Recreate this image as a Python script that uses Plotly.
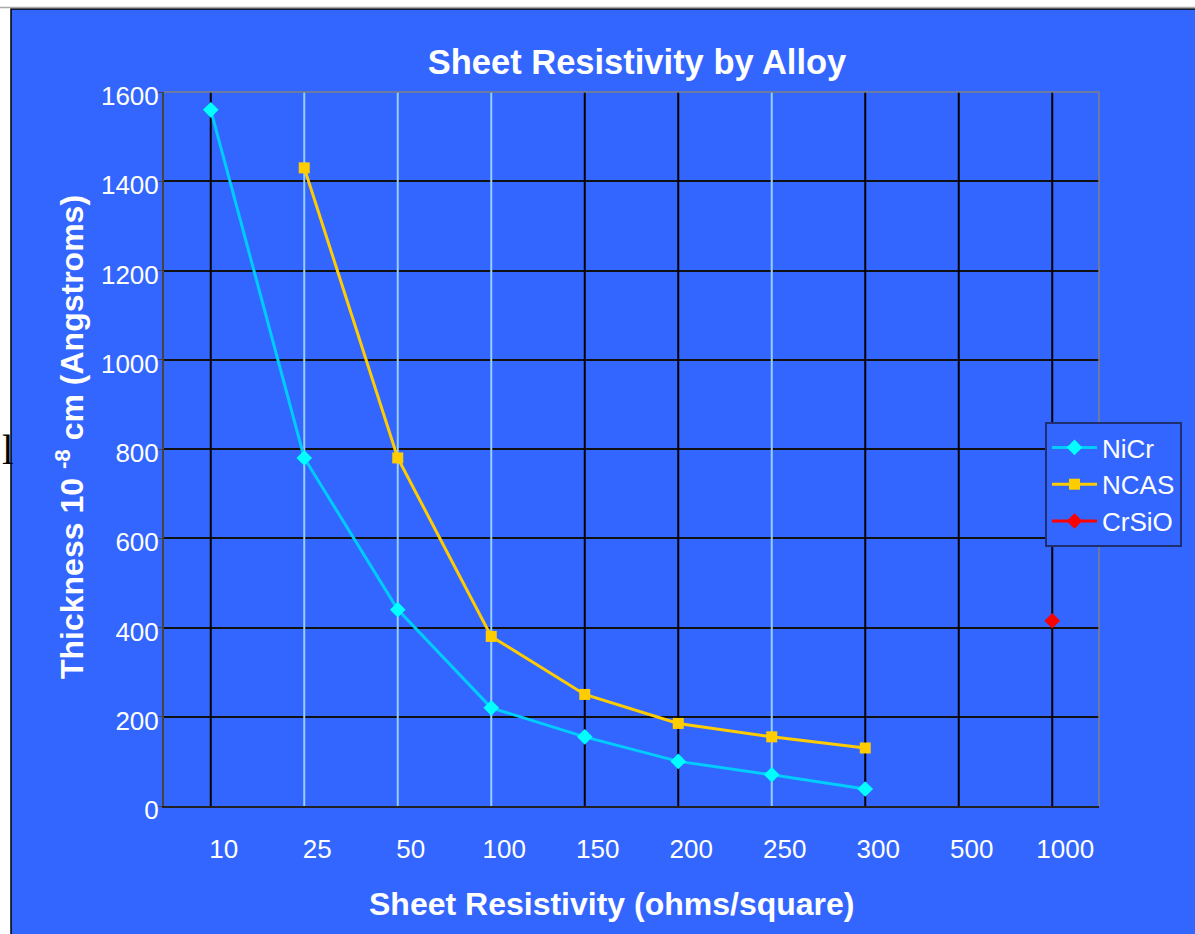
import plotly.graph_objects as go

categories = ["10", "25", "50", "100", "150", "200", "250", "300", "500", "1000"]
nicr = [1560, 780, 440, 220, 155, 100, 70, 38, None, None]
ncas = [None, 1430, 780, 380, 250, 185, 155, 130, None, None]
crsio = [None, None, None, None, None, None, None, None, None, 415]
y_ticks = [0, 200, 400, 600, 800, 1000, 1200, 1400, 1600]

BLUE = "#3366FF"
LIGHT = "#99CCFF"
drop_colors = ["#000000", LIGHT, LIGHT, LIGHT, "#000000", "#000000", LIGHT,
               "#000000", "#000000", "#000000"]
FONT = "Arial, Liberation Sans, sans-serif"

W, H = 1195, 934
L, R, T, B = 164, 1099, 92, 806
pw, ph = R - L, B - T

def px_x(x):
    return (x - L) / pw

def px_y(y):
    return (B - y) / ph

fig = go.Figure()

# vertical category lines (drawn first, above the horizontal grid)
for i, c in enumerate(categories):
    fig.add_trace(go.Scatter(
        x=[c, c], y=[y_ticks[0], y_ticks[-1]], mode="lines",
        line=dict(color=drop_colors[i], width=2),
        showlegend=False, hoverinfo="skip",
    ))

fig.add_trace(go.Scatter(
    x=categories, y=nicr, name="NiCr", mode="lines+markers",
    line=dict(color="#00CCFF", width=3),
    marker=dict(symbol="diamond", size=12, color="#00FFFF", line=dict(width=0)),
))
fig.add_trace(go.Scatter(
    x=categories, y=ncas, name="NCAS", mode="lines+markers",
    line=dict(color="#FFCC00", width=3),
    marker=dict(symbol="square", size=11, color="#FFCC00", line=dict(width=0)),
))
fig.add_trace(go.Scatter(
    x=categories, y=crsio, name="CrSiO", mode="lines+markers",
    line=dict(color="#FF0000", width=3),
    marker=dict(symbol="diamond", size=12, color="#FF0000", line=dict(width=0)),
))

shapes = [
    # blue panel with black border
    dict(type="rect", xref="paper", yref="paper", layer="below",
         x0=px_x(11), x1=1.2, y0=-0.3, y1=px_y(9),
         fillcolor=BLUE, line=dict(color="#000000", width=1.5)),
    dict(type="line", xref="paper", yref="paper", layer="below",
         x0=px_x(0), x1=1.2, y0=px_y(7.5), y1=px_y(7.5),
         line=dict(color="#AAAAAA", width=1.5)),
    # top and right plot border in gray
    dict(type="line", xref="paper", yref="paper",
         x0=0, x1=1, y0=1, y1=1, line=dict(color="#808080", width=1.5)),
    dict(type="line", xref="paper", yref="paper",
         x0=1, x1=1, y0=0, y1=1, line=dict(color="#808080", width=1.5)),
]

annotations = [
    dict(text="<b>Sheet Resistivity (ohms/square)</b>", xref="paper", yref="paper",
         x=px_x(611), y=px_y(904), xanchor="center", yanchor="middle",
         showarrow=False, font=dict(family=FONT, size=32, color="white")),
    dict(text="<b>Thickness 10 <sup>-8</sup> cm (Angstroms)</b>", xref="paper", yref="paper",
         x=px_x(70), y=px_y(437), xanchor="center", yanchor="middle", textangle=-90,
         showarrow=False, font=dict(family=FONT, size=32, color="white")),
    dict(text="l", xref="paper", yref="paper",
         x=px_x(0), y=px_y(450), xanchor="left", yanchor="middle",
         showarrow=False, font=dict(family="Liberation Serif, serif", size=42, color="black")),
]

fig.update_layout(
    width=W, height=H,
    margin=dict(l=L, r=W - R, t=T, b=H - B, autoexpand=False),
    paper_bgcolor="white",
    plot_bgcolor="rgba(0,0,0,0)",
    font=dict(family=FONT, color="white"),
    title=dict(text="<b>Sheet Resistivity by Alloy</b>", xref="container", yref="container",
               x=637 / W, y=1 - 62 / H, xanchor="center", yanchor="middle",
               font=dict(family=FONT, size=34.5, color="white")),
    xaxis=dict(type="category", categoryorder="array", categoryarray=categories,
               range=[-0.5, len(categories) - 0.5],
               showgrid=False, zeroline=False, showline=True,
               linecolor="#222222", linewidth=2, ticks="",
               tickfont=dict(family=FONT, size=26, color="white"),
               ticklabelshift=13, ticklabelstandoff=19),
    yaxis=dict(range=[0, 1600], tickvals=y_ticks, showgrid=True,
               gridcolor="#111111", gridwidth=1.5, zeroline=False,
               showline=True, linecolor="#444444", linewidth=2,
               ticks="outside", ticklen=4, tickcolor="#444444",
               tickfont=dict(family=FONT, size=26, color="white"),
               ticklabelstandoff=-6, ticklabelshift=4),
    legend=dict(x=px_x(1045), y=px_y(422), xanchor="left", yanchor="top",
                bgcolor=BLUE, bordercolor="#1F2E6E", borderwidth=2,
                font=dict(family=FONT, size=26, color="white"),
                itemwidth=45, tracegroupgap=0),
    shapes=shapes,
    annotations=annotations,
    showlegend=True,
)

fig.write_html("out.html")
